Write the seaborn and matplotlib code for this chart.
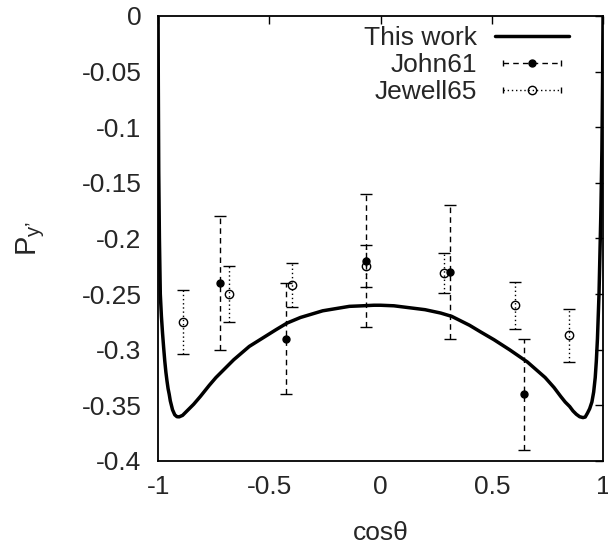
import numpy as np
import matplotlib
matplotlib.use("Agg")
import matplotlib.pyplot as plt
import seaborn as sns
from matplotlib.lines import Line2D
from matplotlib.legend_handler import HandlerLine2D, HandlerTuple

# "This work" curve
curve_x = [-1.0, -0.999, -0.997, -0.994, -0.99, -0.985, -0.98, -0.975, -0.97, -0.965,
           -0.96, -0.955, -0.95, -0.945, -0.94, -0.935, -0.925, -0.915, -0.905, -0.89,
           -0.87, -0.84, -0.81, -0.77, -0.74, -0.7, -0.66, -0.59, -0.55, -0.51, -0.47,
           -0.42, -0.36, -0.31, -0.26, -0.2, -0.14, -0.08, -0.03, 0.0, 0.06, 0.12, 0.2,
           0.27, 0.32, 0.36, 0.40, 0.45, 0.51, 0.58, 0.66, 0.7, 0.74, 0.78, 0.81, 0.83,
           0.85, 0.865, 0.88, 0.895, 0.91, 0.92, 0.93, 0.94, 0.95, 0.958, 0.965, 0.97,
           0.975, 0.982, 0.99, 0.995, 0.998, 1.0]
curve_y = [0.0, -0.06, -0.14, -0.20, -0.25, -0.27, -0.285, -0.298, -0.31, -0.32,
           -0.328, -0.335, -0.34, -0.346, -0.35, -0.354, -0.3585, -0.3602, -0.3603, -0.359,
           -0.355, -0.349, -0.342, -0.332, -0.325, -0.317, -0.309, -0.297, -0.292, -0.287, -0.282,
           -0.276, -0.271, -0.268, -0.265, -0.263, -0.261, -0.2605, -0.26, -0.26, -0.2605, -0.262, -0.264,
           -0.267, -0.27, -0.274, -0.278, -0.284, -0.291, -0.3, -0.311, -0.318, -0.325, -0.334, -0.342, -0.347,
           -0.351, -0.355, -0.358, -0.3602, -0.361, -0.3605, -0.357, -0.353, -0.347, -0.338, -0.325, -0.31,
           -0.29, -0.25, -0.18, -0.12, -0.06, 0.0]

# John61
john_x = [-0.72, -0.423, -0.065, 0.311, 0.646]
john_y = [-0.24, -0.29, -0.22, -0.23, -0.34]
john_err = [0.06, 0.05, 0.06, 0.06, 0.05]

# Jewell65
jewell_x = [-0.886, -0.681, -0.399, -0.065, 0.284, 0.606, 0.849]
jewell_y = [-0.275, -0.25, -0.242, -0.225, -0.231, -0.26, -0.287]
jewell_err = [0.029, 0.025, 0.02, 0.019, 0.018, 0.021, 0.024]

xticks = [-1, -0.5, 0, 0.5, 1]
xticklabels = ["-1", "-0.5", "0", "0.5", "1"]
yticks = [0, -0.05, -0.1, -0.15, -0.2, -0.25, -0.3, -0.35, -0.4]
yticklabels = ["0", "-0.05", "-0.1", "-0.15", "-0.2", "-0.25", "-0.3", "-0.35", "-0.4"]

sns.set_style("white")
plt.rcParams["font.family"] = ["Liberation Sans", "DejaVu Sans"]
plt.rcParams["mathtext.fontset"] = "custom"
plt.rcParams["mathtext.rm"] = "Liberation Sans"
plt.rcParams["mathtext.it"] = "Liberation Sans"

FS = 19

fig = plt.figure(figsize=(6.08, 5.49), dpi=100)
ax = fig.add_axes([0.26, 0.1603, 0.7318, 0.8106])

sns.lineplot(x=curve_x, y=curve_y, ax=ax, color="black", linewidth=2.5, zorder=3)

eb1 = ax.errorbar(john_x, john_y, yerr=john_err, fmt="o", color="black", ms=5,
                  elinewidth=1.0, capsize=4, capthick=1.0, zorder=4)
eb1[2][0].set_linestyle((0, (4, 3)))

eb2 = ax.errorbar(jewell_x, jewell_y, yerr=jewell_err, fmt="o", color="black", ms=6,
                  mfc="none", mec="black", mew=1.0,
                  elinewidth=1.0, capsize=4, capthick=1.0, zorder=4)
eb2[2][0].set_linestyle((0, (1, 2)))

ax.set_xlim(-1, 1)
ax.set_ylim(-0.4, 0)
ax.set_xticks(xticks)
ax.set_xticklabels(xticklabels)
ax.set_yticks(yticks)
ax.set_yticklabels(yticklabels)
ax.tick_params(direction="in", length=6, width=1.0, labelsize=FS,
               top=True, right=True, color="black")
ax.tick_params(axis="x", pad=10)
ax.tick_params(axis="y", pad=12)
for s in ax.spines.values():
    s.set_color("black")
    s.set_linewidth(1.3)

ax.set_xlabel("cosθ", fontsize=FS)
ax.set_ylabel(r"P$_{\mathregular{y’}}$", fontsize=FS + 2)
ax.xaxis.set_label_coords(0.5, -0.135)
ax.yaxis.set_label_coords(-0.25, 0.5)

# gnuplot-like legend keys
h_work = Line2D([], [], color="black", lw=2.5)
cap1 = Line2D([], [], color="black", lw=1.0, ls=(0, (4, 3)), marker="|", ms=5)
dot1 = Line2D([], [], color="black", ls="none", marker="o", ms=5)
cap2 = Line2D([], [], color="black", lw=1.0, ls=(0, (1, 2)), marker="|", ms=5)
dot2 = Line2D([], [], color="black", ls="none", marker="o", ms=6, mfc="none", mew=1.0)
hmap = {cap1: HandlerLine2D(numpoints=2), cap2: HandlerLine2D(numpoints=2),
        tuple: HandlerTuple(ndivide=1, pad=0)}
ax.legend([h_work, (cap1, dot1), (cap2, dot2)], ["This work", "John61", "Jewell65"],
          loc="upper right", bbox_to_anchor=(0.9236, 0.978), frameon=False,
          markerfirst=False, fontsize=FS, handlelength=2.8, handletextpad=0.7,
          labelspacing=0.12, borderpad=0, borderaxespad=0, handler_map=hmap)

fig.savefig("out.png", dpi=100)
